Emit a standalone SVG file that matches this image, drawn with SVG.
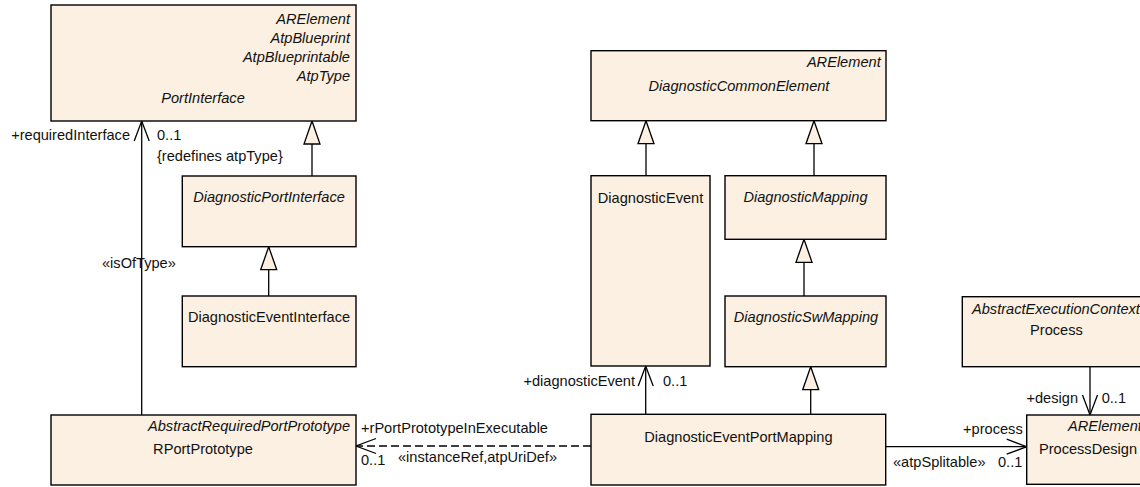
<svg xmlns="http://www.w3.org/2000/svg" width="1140" height="487" viewBox="0 0 1140 487">
  <style>
    .box { fill: #FBF0E1; stroke: #000; stroke-width: 1.4; }
    .t { font-family: "Liberation Sans", Arial, sans-serif; font-size: 14.6px; fill: #111; }
    .i { font-style: italic; }
    .m { text-anchor: middle; }
    .e { text-anchor: end; }
    .ln { fill: none; stroke: #000; stroke-width: 1.3; }
    .dash { stroke-dasharray: 8 4; }
  </style>
  <defs>
    <!-- hollow triangle for generalization -->
    <marker id="gen" markerUnits="userSpaceOnUse" markerWidth="24" markerHeight="18" viewBox="0 0 24 18" refX="23" refY="9" orient="auto" overflow="visible">
      <path d="M23,9 L0,1 L0,17 Z" fill="#FBF0E1" stroke="#000" stroke-width="1.3"/>
    </marker>
    <!-- open arrowhead for navigable associations -->
    <marker id="open" markerUnits="userSpaceOnUse" markerWidth="21" markerHeight="16" viewBox="0 0 21 16" refX="20" refY="8" orient="auto" overflow="visible">
      <path d="M0,0.5 L20,8 L0,15.5" fill="none" stroke="#000" stroke-width="1.3"/>
    </marker>
  </defs>

  <!-- connectors -->
  <g id="connectors">
    <!-- RPortPrototype -> PortInterface -->
    <line class="ln" x1="141.7" y1="415" x2="141.7" y2="121" marker-end="url(#open)"/>
    <!-- generalizations -->
    <line class="ln" x1="312" y1="176" x2="312" y2="121" marker-end="url(#gen)"/>
    <line class="ln" x1="268.7" y1="296" x2="268.7" y2="246.7" marker-end="url(#gen)"/>
    <line class="ln" x1="646" y1="176" x2="646" y2="120.7" marker-end="url(#gen)"/>
    <line class="ln" x1="814" y1="176" x2="814" y2="120.7" marker-end="url(#gen)"/>
    <line class="ln" x1="804" y1="296" x2="804" y2="239.3" marker-end="url(#gen)"/>
    <line class="ln" x1="810.7" y1="414.3" x2="810.7" y2="366.7" marker-end="url(#gen)"/>
    <!-- DiagnosticEventPortMapping -> DiagnosticEvent -->
    <line class="ln" x1="645.7" y1="414.3" x2="645.7" y2="366" marker-end="url(#open)"/>
    <!-- DiagnosticEventPortMapping -> RPortPrototype (instanceRef) -->
    <line class="ln dash" x1="591" y1="446" x2="356" y2="446" marker-end="url(#open)"/>
    <!-- DiagnosticEventPortMapping -> ProcessDesign -->
    <line class="ln" x1="885.7" y1="446.7" x2="1026.7" y2="446.7" marker-end="url(#open)"/>
    <!-- Process -> ProcessDesign -->
    <line class="ln" x1="1090" y1="366.7" x2="1090" y2="415" marker-end="url(#open)"/>

    <!-- connector labels -->
    <text class="t e" x="130" y="140">+requiredInterface</text>
    <text class="t" x="157" y="140">0..1</text>
    <text class="t" x="157" y="161">{redefines atpType}</text>
    <text class="t" x="102" y="268">«isOfType»</text>
    <text class="t e" x="635" y="386">+diagnosticEvent</text>
    <text class="t" x="663" y="386">0..1</text>
    <text class="t" x="361" y="433">+rPortPrototypeInExecutable</text>
    <text class="t" x="361" y="465">0..1</text>
    <text class="t" x="398" y="462">«instanceRef,atpUriDef»</text>
    <text class="t e" x="1078" y="403">+design</text>
    <text class="t" x="1101.7" y="403">0..1</text>
    <text class="t e" x="1022.7" y="434">+process</text>
    <text class="t" x="893" y="467">«atpSplitable»</text>
    <text class="t" x="998" y="467">0..1</text>
  </g>

  <!-- classes -->
  <g id="PortInterface">
    <rect class="box" x="51" y="5" width="305" height="116"/>
    <text class="t i e" x="350" y="24">ARElement</text>
    <text class="t i e" x="350" y="43">AtpBlueprint</text>
    <text class="t i e" x="350" y="62">AtpBlueprintable</text>
    <text class="t i e" x="350" y="81">AtpType</text>
    <text class="t i m" x="203" y="103">PortInterface</text>
  </g>

  <g id="DiagnosticPortInterface">
    <rect class="box" x="182.3" y="176" width="173.7" height="70.7"/>
    <text class="t i m" x="269" y="202">DiagnosticPortInterface</text>
  </g>

  <g id="DiagnosticEventInterface">
    <rect class="box" x="182.3" y="296" width="173.7" height="70.7"/>
    <text class="t m" x="269" y="322">DiagnosticEventInterface</text>
  </g>

  <g id="RPortPrototype">
    <rect class="box" x="51" y="415" width="305" height="70"/>
    <text class="t i e" x="350" y="431">AbstractRequiredPortPrototype</text>
    <text class="t m" x="203" y="454">RPortPrototype</text>
  </g>

  <g id="DiagnosticCommonElement">
    <rect class="box" x="591" y="50.7" width="295" height="70"/>
    <text class="t i e" x="880.7" y="67">ARElement</text>
    <text class="t i m" x="739" y="91">DiagnosticCommonElement</text>
  </g>

  <g id="DiagnosticEvent">
    <rect class="box" x="591" y="175.7" width="119" height="190.3"/>
    <text class="t m" x="650.5" y="202.5">DiagnosticEvent</text>
  </g>

  <g id="DiagnosticMapping">
    <rect class="box" x="725" y="175.7" width="161" height="63.6"/>
    <text class="t i m" x="805.5" y="202">DiagnosticMapping</text>
  </g>

  <g id="DiagnosticSwMapping">
    <rect class="box" x="725" y="296" width="161" height="70.7"/>
    <text class="t i m" x="806" y="322">DiagnosticSwMapping</text>
  </g>

  <g id="DiagnosticEventPortMapping">
    <rect class="box" x="591" y="414.3" width="294.7" height="70.7"/>
    <text class="t m" x="738.4" y="442">DiagnosticEventPortMapping</text>
  </g>

  <g id="Process">
    <rect class="box" x="962.3" y="296.7" width="188" height="70"/>
    <text class="t i" x="972" y="314">AbstractExecutionContext</text>
    <text class="t m" x="1056.4" y="335">Process</text>
  </g>

  <g id="ProcessDesign">
    <rect class="box" x="1026.7" y="415" width="123" height="69.3"/>
    <text class="t i" x="1068" y="431">ARElement</text>
    <text class="t m" x="1088" y="454">ProcessDesign</text>
  </g>
</svg>
